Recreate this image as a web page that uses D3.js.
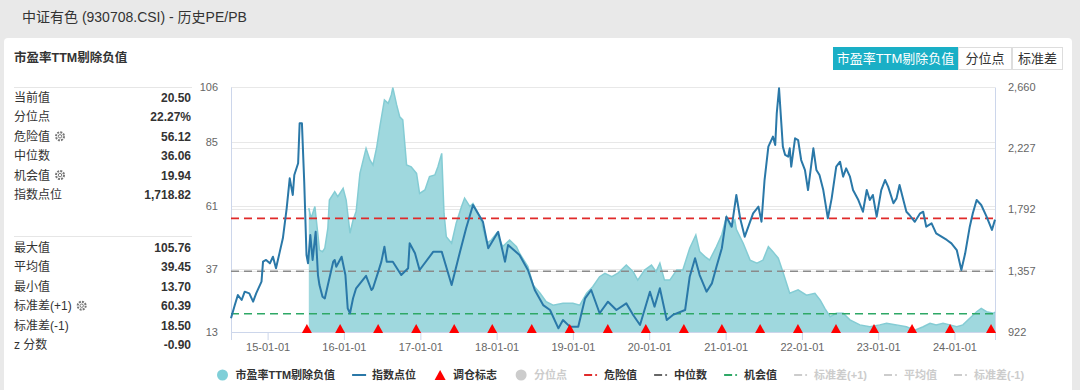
<!DOCTYPE html>
<html><head><meta charset="utf-8">
<script src="https://cdn.jsdelivr.net/npm/d3@7"></script>
<style>
body{margin:0;background:#e9e9e9;}
svg{display:block;font-family:"Liberation Sans","Noto Sans CJK SC",sans-serif;}
</style></head><body>
<svg id="c" width="1080" height="390"></svg>
<script>
// ---------------- DATA ----------------
const pageTitle = "中证有色 (930708.CSI) - 历史PE/PB";
const chartTitle = "市盈率TTM剔除负值";
const buttons = ["市盈率TTM剔除负值", "分位点", "标准差"];

const statLabelsTop = ["当前值", "分位点", "危险值", "中位数", "机会值", "指数点位"];
const statValuesTop = ["20.50", "22.27%", "56.12", "36.06", "19.94", "1,718.82"];
const statGearTop = [0, 0, 1, 0, 1, 0];
const statLabelsBottom = ["最大值", "平均值", "最小值", "标准差(+1)", "标准差(-1)", "z 分数"];
const statValuesBottom = ["105.76", "39.45", "13.70", "60.39", "18.50", "-0.90"];
const statGearBottom = [0, 0, 0, 1, 0, 0];

const dangerValue = 56.12, medianValue = 36.06, chanceValue = 19.94;

const leftTicks = [13, 37, 61, 85, 106];
const rightTicks = [922, 1357, 1792, 2227, 2660];

// [decimal year, index points]
const indexSeries = [[2014.52,1019],[2014.57,1113],[2014.61,1184],[2014.66,1149],[2014.70,1208],[2014.76,1196],[2014.81,1137],[2014.85,1196],[2014.92,1279],[2014.94,1421],[2014.98,1433],[2015.03,1409],[2015.07,1456],[2015.11,1374],[2015.16,1492],[2015.20,1587],[2015.25,1799],[2015.29,2012],[2015.33,1894],[2015.35,2036],[2015.40,2119],[2015.42,2402],[2015.45,2402],[2015.48,1988],[2015.51,1468],[2015.53,1409],[2015.56,1610],[2015.59,1433],[2015.63,1633],[2015.66,1326],[2015.68,1255],[2015.72,1172],[2015.75,1160],[2015.79,1255],[2015.86,1421],[2015.88,1433],[2015.90,1385],[2015.97,1456],[2016.02,1326],[2016.05,1090],[2016.08,1055],[2016.12,1161],[2016.16,1232],[2016.23,1279],[2016.29,1320],[2016.36,1220],[2016.38,1232],[2016.45,1350],[2016.49,1421],[2016.53,1527],[2016.56,1421],[2016.64,1421],[2016.75,1326],[2016.84,1374],[2016.86,1551],[2016.93,1480],[2016.99,1362],[2017.17,1492],[2017.28,1492],[2017.41,1255],[2017.52,1492],[2017.60,1658],[2017.69,1823],[2017.82,1704],[2017.89,1516],[2018.02,1633],[2018.11,1421],[2018.15,1539],[2018.30,1468],[2018.41,1362],[2018.50,1220],[2018.61,1113],[2018.70,1078],[2018.81,948],[2018.87,1007],[2018.96,960],[2019.07,960],[2019.16,1161],[2019.24,1220],[2019.35,1055],[2019.46,1137],[2019.57,1078],[2019.70,1125],[2019.79,1043],[2019.88,972],[2020.01,1208],[2020.07,1102],[2020.14,1232],[2020.23,1007],[2020.31,1043],[2020.47,1078],[2020.53,1314],[2020.60,1445],[2020.66,1326],[2020.75,1208],[2020.82,1267],[2020.88,1385],[2020.95,1516],[2021.01,1740],[2021.08,1669],[2021.14,1894],[2021.19,1729],[2021.25,1598],[2021.36,1764],[2021.43,1811],[2021.47,1704],[2021.51,2000],[2021.56,2237],[2021.62,2308],[2021.65,2249],[2021.67,2473],[2021.70,2651],[2021.73,2402],[2021.75,2237],[2021.78,2178],[2021.82,2166],[2021.84,2225],[2021.86,2095],[2021.91,2296],[2021.95,2284],[2021.99,2142],[2022.04,2071],[2022.08,1929],[2022.15,2225],[2022.19,2071],[2022.23,2036],[2022.28,1929],[2022.34,1729],[2022.39,1870],[2022.45,2095],[2022.50,2130],[2022.54,2024],[2022.58,2083],[2022.63,2024],[2022.67,1929],[2022.74,1858],[2022.80,1775],[2022.85,1929],[2022.89,1858],[2022.93,1894],[2022.98,1740],[2023.04,1929],[2023.09,2000],[2023.13,1953],[2023.20,1835],[2023.24,1870],[2023.28,1965],[2023.33,1858],[2023.37,1775],[2023.41,1752],[2023.48,1704],[2023.55,1764],[2023.59,1775],[2023.63,1669],[2023.70,1693],[2023.76,1622],[2023.83,1598],[2023.90,1575],[2023.96,1551],[2024.03,1503],[2024.09,1362],[2024.14,1480],[2024.20,1669],[2024.24,1764],[2024.29,1858],[2024.35,1823],[2024.42,1740],[2024.49,1646],[2024.53,1719]];

// [decimal year, PE TTM (ex negative)]
const peSeries = [[2015.54,60.0],[2015.57,56.2],[2015.62,60.6],[2015.66,49.8],[2015.68,44.1],[2015.72,43.5],[2015.75,44.8],[2015.79,52.4],[2015.81,63.1],[2015.88,66.3],[2015.92,64.4],[2015.99,67.5],[2016.03,63.1],[2016.08,50.5],[2016.12,55.5],[2016.16,58.7],[2016.21,73.2],[2016.29,82.7],[2016.34,78.3],[2016.38,76.4],[2016.43,83.3],[2016.47,90.9],[2016.53,101.1],[2016.58,99.8],[2016.62,103.0],[2016.64,105.76],[2016.69,99.2],[2016.73,94.7],[2016.77,93.5],[2016.82,76.4],[2016.88,75.7],[2016.95,73.2],[2016.99,65.6],[2017.06,66.9],[2017.12,72.0],[2017.19,72.6],[2017.23,75.7],[2017.28,80.8],[2017.31,58.1],[2017.34,49.2],[2017.41,46.7],[2017.47,54.3],[2017.54,60.6],[2017.58,63.8],[2017.65,60.6],[2017.69,61.8],[2017.78,56.8],[2017.87,46.7],[2017.93,47.9],[2018.00,50.5],[2018.08,45.4],[2018.17,47.9],[2018.26,45.4],[2018.30,42.9],[2018.41,37.8],[2018.48,30.8],[2018.57,27.7],[2018.65,24.5],[2018.74,23.2],[2018.87,23.9],[2019.00,23.9],[2019.09,23.2],[2019.18,27.7],[2019.26,30.2],[2019.35,34.0],[2019.42,35.3],[2019.51,34.0],[2019.59,35.3],[2019.70,38.4],[2019.79,35.9],[2019.85,32.7],[2019.94,36.5],[2020.03,38.4],[2020.09,35.9],[2020.14,39.1],[2020.20,32.7],[2020.27,32.7],[2020.36,36.5],[2020.44,36.5],[2020.53,44.8],[2020.61,49.8],[2020.66,43.5],[2020.73,41.6],[2020.79,40.3],[2020.88,45.4],[2020.95,50.0],[2021.01,56.8],[2021.06,53.0],[2021.12,55.5],[2021.14,52.0],[2021.23,46.7],[2021.32,40.3],[2021.41,39.1],[2021.49,40.3],[2021.56,45.4],[2021.62,43.5],[2021.69,41.0],[2021.75,35.9],[2021.84,27.7],[2021.95,29.0],[2022.06,27.0],[2022.17,27.7],[2022.24,25.1],[2022.30,22.0],[2022.37,18.8],[2022.45,20.1],[2022.54,20.1],[2022.63,17.6],[2022.76,15.7],[2022.89,15.0],[2023.02,15.7],[2023.11,16.3],[2023.24,15.7],[2023.37,15.0],[2023.48,13.7],[2023.59,15.0],[2023.68,16.3],[2023.76,15.7],[2023.85,16.3],[2023.94,15.7],[2024.03,15.0],[2024.11,15.7],[2024.20,18.2],[2024.29,20.7],[2024.35,22.0],[2024.42,20.7],[2024.51,20.1],[2024.53,20.5]];

const rebalanceDates = ["2015-07-08","2015-12-14","2016-06-13","2016-12-12","2017-06-12","2017-12-11","2018-06-18","2018-12-17","2019-06-17","2019-12-16","2020-06-15","2020-12-14","2021-06-15","2021-12-13","2022-06-13","2022-12-12","2023-06-12","2023-12-11","2024-06-24"];

const legendItems = [
  {label:"市盈率TTM剔除负值", type:"circle", color:"#7fcfd8", on:true},
  {label:"指数点位", type:"line", color:"#2a78a8", on:true},
  {label:"调仓标志", type:"triangle", color:"#f00", on:true},
  {label:"分位点", type:"circle", color:"#ccc", on:false},
  {label:"危险值", type:"dash", color:"#e02a2a", on:true},
  {label:"中位数", type:"dash", color:"#666", on:true},
  {label:"机会值", type:"dash", color:"#2ea866", on:true},
  {label:"标准差(+1)", type:"dash", color:"#ccc", on:false},
  {label:"平均值", type:"dash", color:"#ccc", on:false},
  {label:"标准差(-1)", type:"dash", color:"#ccc", on:false}
];

// ---------------- DRAW ----------------
const svg = d3.select("#c");
const toDate = t => { const y = Math.floor(t); const a = new Date(y,0,1), b = new Date(y+1,0,1); return new Date(+a + (t-y)*(b-a)); };
const parse = d3.timeParse("%Y-%m-%d");

svg.append("rect").attr("width",1080).attr("height",390).attr("fill","#e9e9e9");
svg.append("rect").attr("x",4).attr("y",38).attr("width",1068).attr("height",370).attr("rx",4).attr("fill","#fff");

svg.append("text").attr("x",22).attr("y",22).attr("font-size",14).attr("fill","#333").text(pageTitle);
svg.append("text").attr("x",14).attr("y",62).attr("font-size",12.5).attr("font-weight","bold").attr("fill","#333").text(chartTitle);

// buttons
const btnX = [833, 958, 1012, 1063];
buttons.forEach((b,i) => {
  const g = svg.append("g");
  g.append("rect").attr("x",btnX[i]+0.5).attr("y",47.5).attr("width",btnX[i+1]-btnX[i]-1).attr("height",22)
    .attr("fill", i===0 ? "#1aafc6" : "#fff").attr("stroke", i===0 ? "#1aafc6" : "#ddd");
  g.append("text").attr("x",(btnX[i]+btnX[i+1])/2).attr("y",63).attr("text-anchor","middle")
    .attr("font-size",13).attr("fill", i===0 ? "#fff" : "#333").text(b);
});

// stats panel
function gear(x, y){
  const g = svg.append("g").attr("transform",`translate(${x},${y})`);
  g.append("circle").attr("r",4).attr("fill","none").attr("stroke","#777").attr("stroke-width",2).attr("stroke-dasharray","2,1.1");
  g.append("circle").attr("r",1.7).attr("fill","none").attr("stroke","#777").attr("stroke-width",1);
}
function statBlock(labels, values, gears, top, sepY){
  svg.append("line").attr("x1",14).attr("x2",192).attr("y1",sepY).attr("y2",sepY).attr("stroke","#e6e6e6");
  labels.forEach((l,i) => {
    const y = top + i*19.4;
    const t = svg.append("text").attr("x",14).attr("y",y+4.5).attr("font-size",12).attr("fill","#333").text(l);
    if (gears[i]) { const w = t.node().getComputedTextLength(); gear(14 + w + 10, y); }
    svg.append("text").attr("x",191).attr("y",y+4.5).attr("text-anchor","end").attr("font-size",12)
      .attr("font-weight","bold").attr("fill","#333").text(values[i]);
  });
}
statBlock(statLabelsTop, statValuesTop, statGearTop, 97.5, 87.5);
statBlock(statLabelsBottom, statValuesBottom, statGearBottom, 247.5, 236.5);

// scales
const L = 231, R = 995, T = 87, B = 332;
const idx = indexSeries.map(d => ({date: toDate(d[0]), v: d[1]}));
const pe = peSeries.map(d => ({date: toDate(d[0]), v: d[1]}));
const x = d3.scaleTime().domain(d3.extent(idx, d => d.date)).range([L, R]);
const yL = d3.scaleLinear().domain([leftTicks[0], leftTicks[leftTicks.length-1]]).range([B, T]);
const yR = d3.scaleLinear().domain([rightTicks[0], rightTicks[rightTicks.length-1]]).range([B, T]);

// grid
const grid = svg.append("g").attr("stroke","#e8e8e8").attr("stroke-width",1);
leftTicks.forEach(v => grid.append("line").attr("x1",L).attr("x2",R).attr("y1",Math.round(yL(v))+0.5).attr("y2",Math.round(yL(v))+0.5));
rightTicks.forEach(v => grid.append("line").attr("x1",L).attr("x2",R).attr("y1",Math.round(yR(v))+0.5).attr("y2",Math.round(yR(v))+0.5));

// axes
const ax = svg.append("g").attr("transform",`translate(0,${B})`)
  .call(d3.axisBottom(x).ticks(d3.timeYear.every(1)).tickFormat(d3.timeFormat("%y-%m-%d")).tickSize(8).tickPadding(3));
ax.select(".domain").attr("stroke","#ccd6eb");
ax.selectAll(".tick line").attr("stroke","#ccd6eb");
ax.selectAll("text").attr("fill","#666").attr("font-size",11).attr("font-family","Liberation Sans, sans-serif");

const al = svg.append("g").attr("transform",`translate(${L},0)`)
  .call(d3.axisLeft(yL).tickValues(leftTicks).tickSize(0).tickPadding(13));
al.select(".domain").attr("stroke","#ccd6eb");
al.selectAll("text").attr("fill","#666").attr("font-size",11).attr("font-family","Liberation Sans, sans-serif");

const ar = svg.append("g").attr("transform",`translate(${R},0)`)
  .call(d3.axisRight(yR).tickValues(rightTicks).tickFormat(d3.format(",")).tickSize(0).tickPadding(13));
ar.select(".domain").attr("stroke","#ccd6eb");
ar.selectAll("text").attr("fill","#666").attr("font-size",11).attr("font-family","Liberation Sans, sans-serif");

// PE area
svg.append("path").datum(pe)
  .attr("d", d3.area().x(d => x(d.date)).y0(yL(leftTicks[0])).y1(d => yL(d.v)))
  .attr("fill","#9fd8de");
svg.append("path").datum(pe)
  .attr("d", d3.line().x(d => x(d.date)).y(d => yL(d.v)))
  .attr("fill","none").attr("stroke","#84ccd4").attr("stroke-width",1.5);

// reference lines
[[dangerValue,"#e02a2a"],[medianValue,"#8a8a8a"],[chanceValue,"#2ea866"]].forEach(([v,c]) => {
  svg.append("line").attr("x1",L).attr("x2",R).attr("y1",yL(v)).attr("y2",yL(v))
    .attr("stroke",c).attr("stroke-width",1.6).attr("stroke-dasharray","8,5");
});

// index line
svg.append("path").datum(idx)
  .attr("d", d3.line().x(d => x(d.date)).y(d => yR(d.v)))
  .attr("fill","none").attr("stroke","#2a78a8").attr("stroke-width",2).attr("stroke-linejoin","round");

// rebalance triangles
const tri = (cx, by, w, h) => `M${cx-w/2},${by}L${cx+w/2},${by}L${cx},${by-h}Z`;
svg.append("g").selectAll("path").data(rebalanceDates).join("path")
  .attr("d", d => tri(x(parse(d)), B+1, 10, 9)).attr("fill","#f00");

// legend
let cx = 222.5; const ly = 375;
legendItems.forEach(it => {
  const g = svg.append("g");
  if (it.type === "circle") g.append("circle").attr("cx",cx).attr("cy",ly).attr("r",5.5).attr("fill",it.color);
  else if (it.type === "line") g.append("line").attr("x1",cx-7).attr("x2",cx+7).attr("y1",ly).attr("y2",ly).attr("stroke",it.color).attr("stroke-width",2);
  else if (it.type === "triangle") g.append("path").attr("d",tri(cx, ly+5, 11, 10)).attr("fill",it.color);
  else {
    g.append("line").attr("x1",cx-7).attr("x2",cx+1).attr("y1",ly).attr("y2",ly).attr("stroke",it.color).attr("stroke-width",2);
    g.append("circle").attr("cx",cx+5).attr("cy",ly).attr("r",1.1).attr("fill",it.color);
  }
  const t = g.append("text").attr("x",cx+13).attr("y",ly+4).attr("font-size",11).attr("font-weight","bold")
    .attr("fill", it.on ? "#333" : "#ccc").text(it.label);
  cx = cx + 13 + t.node().getComputedTextLength() + 24;
});
</script></body></html>
